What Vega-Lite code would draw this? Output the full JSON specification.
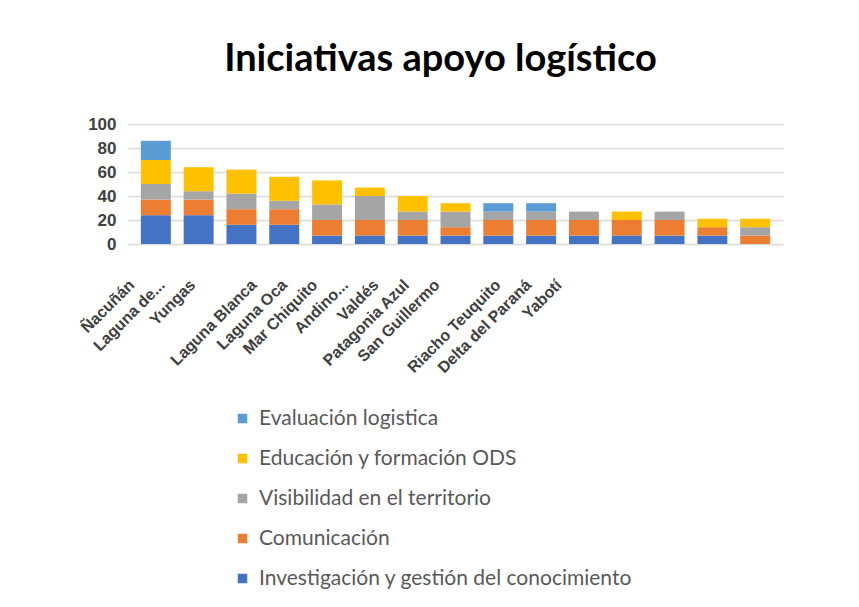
{
  "$schema": "https://vega.github.io/schema/vega-lite/v6.json",
  "autosize": "none",
  "width": 655,
  "height": 120,
  "padding": {"left": 128, "top": 124, "right": 76, "bottom": 363},
  "background": "white",
  "title": {
    "text": "Iniciativas apoyo logístico",
    "font": "Lato",
    "fontSize": 38,
    "fontWeight": "bold",
    "color": "#000000",
    "anchor": "middle",
    "dx": -15,
    "offset": 36
  },
  "data": {
    "values": [
      {"sitio": "Ñacuñán", "serie": "Investigación y gestión del conocimiento", "k": 1, "valor": 24},
      {"sitio": "Ñacuñán", "serie": "Comunicación", "k": 2, "valor": 13},
      {"sitio": "Ñacuñán", "serie": "Visibilidad en el territorio", "k": 3, "valor": 13},
      {"sitio": "Ñacuñán", "serie": "Educación y formación ODS", "k": 4, "valor": 20},
      {"sitio": "Ñacuñán", "serie": "Evaluación logistica", "k": 5, "valor": 16},
      {"sitio": "Laguna de...", "serie": "Investigación y gestión del conocimiento", "k": 1, "valor": 24},
      {"sitio": "Laguna de...", "serie": "Comunicación", "k": 2, "valor": 13},
      {"sitio": "Laguna de...", "serie": "Visibilidad en el territorio", "k": 3, "valor": 7},
      {"sitio": "Laguna de...", "serie": "Educación y formación ODS", "k": 4, "valor": 20},
      {"sitio": "Laguna de...", "serie": "Evaluación logistica", "k": 5, "valor": 0},
      {"sitio": "Yungas", "serie": "Investigación y gestión del conocimiento", "k": 1, "valor": 16},
      {"sitio": "Yungas", "serie": "Comunicación", "k": 2, "valor": 13},
      {"sitio": "Yungas", "serie": "Visibilidad en el territorio", "k": 3, "valor": 13},
      {"sitio": "Yungas", "serie": "Educación y formación ODS", "k": 4, "valor": 20},
      {"sitio": "Yungas", "serie": "Evaluación logistica", "k": 5, "valor": 0},
      {"sitio": "Costero del Sur", "serie": "Investigación y gestión del conocimiento", "k": 1, "valor": 16},
      {"sitio": "Costero del Sur", "serie": "Comunicación", "k": 2, "valor": 13},
      {"sitio": "Costero del Sur", "serie": "Visibilidad en el territorio", "k": 3, "valor": 7},
      {"sitio": "Costero del Sur", "serie": "Educación y formación ODS", "k": 4, "valor": 20},
      {"sitio": "Costero del Sur", "serie": "Evaluación logistica", "k": 5, "valor": 0},
      {"sitio": "Laguna Blanca", "serie": "Investigación y gestión del conocimiento", "k": 1, "valor": 7},
      {"sitio": "Laguna Blanca", "serie": "Comunicación", "k": 2, "valor": 13},
      {"sitio": "Laguna Blanca", "serie": "Visibilidad en el territorio", "k": 3, "valor": 13},
      {"sitio": "Laguna Blanca", "serie": "Educación y formación ODS", "k": 4, "valor": 20},
      {"sitio": "Laguna Blanca", "serie": "Evaluación logistica", "k": 5, "valor": 0},
      {"sitio": "Laguna Oca", "serie": "Investigación y gestión del conocimiento", "k": 1, "valor": 7},
      {"sitio": "Laguna Oca", "serie": "Comunicación", "k": 2, "valor": 13},
      {"sitio": "Laguna Oca", "serie": "Visibilidad en el territorio", "k": 3, "valor": 20},
      {"sitio": "Laguna Oca", "serie": "Educación y formación ODS", "k": 4, "valor": 7},
      {"sitio": "Laguna Oca", "serie": "Evaluación logistica", "k": 5, "valor": 0},
      {"sitio": "Mar Chiquito", "serie": "Investigación y gestión del conocimiento", "k": 1, "valor": 7},
      {"sitio": "Mar Chiquito", "serie": "Comunicación", "k": 2, "valor": 13},
      {"sitio": "Mar Chiquito", "serie": "Visibilidad en el territorio", "k": 3, "valor": 7},
      {"sitio": "Mar Chiquito", "serie": "Educación y formación ODS", "k": 4, "valor": 13},
      {"sitio": "Mar Chiquito", "serie": "Evaluación logistica", "k": 5, "valor": 0},
      {"sitio": "Andino...", "serie": "Investigación y gestión del conocimiento", "k": 1, "valor": 7},
      {"sitio": "Andino...", "serie": "Comunicación", "k": 2, "valor": 7},
      {"sitio": "Andino...", "serie": "Visibilidad en el territorio", "k": 3, "valor": 13},
      {"sitio": "Andino...", "serie": "Educación y formación ODS", "k": 4, "valor": 7},
      {"sitio": "Andino...", "serie": "Evaluación logistica", "k": 5, "valor": 0},
      {"sitio": "Valdés", "serie": "Investigación y gestión del conocimiento", "k": 1, "valor": 7},
      {"sitio": "Valdés", "serie": "Comunicación", "k": 2, "valor": 13},
      {"sitio": "Valdés", "serie": "Visibilidad en el territorio", "k": 3, "valor": 7},
      {"sitio": "Valdés", "serie": "Educación y formación ODS", "k": 4, "valor": 0},
      {"sitio": "Valdés", "serie": "Evaluación logistica", "k": 5, "valor": 7},
      {"sitio": "Patagonia Azul", "serie": "Investigación y gestión del conocimiento", "k": 1, "valor": 7},
      {"sitio": "Patagonia Azul", "serie": "Comunicación", "k": 2, "valor": 13},
      {"sitio": "Patagonia Azul", "serie": "Visibilidad en el territorio", "k": 3, "valor": 7},
      {"sitio": "Patagonia Azul", "serie": "Educación y formación ODS", "k": 4, "valor": 0},
      {"sitio": "Patagonia Azul", "serie": "Evaluación logistica", "k": 5, "valor": 7},
      {"sitio": "San Guillermo", "serie": "Investigación y gestión del conocimiento", "k": 1, "valor": 7},
      {"sitio": "San Guillermo", "serie": "Comunicación", "k": 2, "valor": 13},
      {"sitio": "San Guillermo", "serie": "Visibilidad en el territorio", "k": 3, "valor": 7},
      {"sitio": "San Guillermo", "serie": "Educación y formación ODS", "k": 4, "valor": 0},
      {"sitio": "San Guillermo", "serie": "Evaluación logistica", "k": 5, "valor": 0},
      {"sitio": "Pereyra Iraola", "serie": "Investigación y gestión del conocimiento", "k": 1, "valor": 7},
      {"sitio": "Pereyra Iraola", "serie": "Comunicación", "k": 2, "valor": 13},
      {"sitio": "Pereyra Iraola", "serie": "Visibilidad en el territorio", "k": 3, "valor": 0},
      {"sitio": "Pereyra Iraola", "serie": "Educación y formación ODS", "k": 4, "valor": 7},
      {"sitio": "Pereyra Iraola", "serie": "Evaluación logistica", "k": 5, "valor": 0},
      {"sitio": "Riacho Teuquito", "serie": "Investigación y gestión del conocimiento", "k": 1, "valor": 7},
      {"sitio": "Riacho Teuquito", "serie": "Comunicación", "k": 2, "valor": 13},
      {"sitio": "Riacho Teuquito", "serie": "Visibilidad en el territorio", "k": 3, "valor": 7},
      {"sitio": "Riacho Teuquito", "serie": "Educación y formación ODS", "k": 4, "valor": 0},
      {"sitio": "Riacho Teuquito", "serie": "Evaluación logistica", "k": 5, "valor": 0},
      {"sitio": "Delta del Paraná", "serie": "Investigación y gestión del conocimiento", "k": 1, "valor": 7},
      {"sitio": "Delta del Paraná", "serie": "Comunicación", "k": 2, "valor": 7},
      {"sitio": "Delta del Paraná", "serie": "Visibilidad en el territorio", "k": 3, "valor": 0},
      {"sitio": "Delta del Paraná", "serie": "Educación y formación ODS", "k": 4, "valor": 7},
      {"sitio": "Delta del Paraná", "serie": "Evaluación logistica", "k": 5, "valor": 0},
      {"sitio": "Yabotí", "serie": "Investigación y gestión del conocimiento", "k": 1, "valor": 0},
      {"sitio": "Yabotí", "serie": "Comunicación", "k": 2, "valor": 7},
      {"sitio": "Yabotí", "serie": "Visibilidad en el territorio", "k": 3, "valor": 7},
      {"sitio": "Yabotí", "serie": "Educación y formación ODS", "k": 4, "valor": 7},
      {"sitio": "Yabotí", "serie": "Evaluación logistica", "k": 5, "valor": 0}
    ]
  },
  "mark": {"type": "bar"},
  "encoding": {
    "x": {
      "field": "sitio",
      "type": "nominal",
      "sort": null,
      "scale": {"paddingInner": 0.3, "paddingOuter": 0.3},
      "axis": {
        "title": null,
        "domain": false,
        "ticks": false,
        "labelAngle": -45,
        "labelAlign": "right",
        "labelBaseline": "middle",
        "labelFont": "Liberation Sans",
        "labelFontSize": 16,
        "labelFontWeight": "bold",
        "labelColor": "#404040",
        "labelPadding": 38,
        "labelOffset": {"expr": "-24 - 172 * datum.index"},
        "labelOverlap": false,
        "labelExpr": "datum.value == 'Costero del Sur' || datum.value == 'Pereyra Iraola' ? '' : datum.value"
      }
    },
    "y": {
      "field": "valor",
      "type": "quantitative",
      "stack": "zero",
      "scale": {"domain": [0, 100]},
      "axis": {
        "title": null,
        "values": [0, 20, 40, 60, 80, 100],
        "domain": false,
        "ticks": false,
        "labelFont": "Liberation Sans",
        "labelFontSize": 17,
        "labelFontWeight": "bold",
        "labelColor": "#404040",
        "labelPadding": 12,
        "gridColor": "#d9d9d9",
        "gridWidth": 1.5
      }
    },
    "color": {
      "field": "serie",
      "type": "nominal",
      "scale": {
        "domain": ["Evaluación logistica", "Educación y formación ODS", "Visibilidad en el territorio", "Comunicación", "Investigación y gestión del conocimiento"],
        "range": ["#5B9BD5", "#FFC000", "#A5A5A5", "#ED7D31", "#4472C4"]
      },
      "legend": {
        "title": null,
        "orient": "none",
        "legendX": 104,
        "legendY": 284,
        "direction": "vertical",
        "symbolType": "square",
        "symbolSize": 90,
        "symbolStrokeWidth": 0,
        "labelFont": "Lato",
        "labelFontSize": 21,
        "labelColor": "#595959",
        "labelLimit": 600,
        "labelOffset": 6,
        "rowPadding": 18
      }
    },
    "order": {"field": "k", "type": "quantitative", "sort": "ascending"}
  },
  "config": {
    "view": {"stroke": null}
  }
}
